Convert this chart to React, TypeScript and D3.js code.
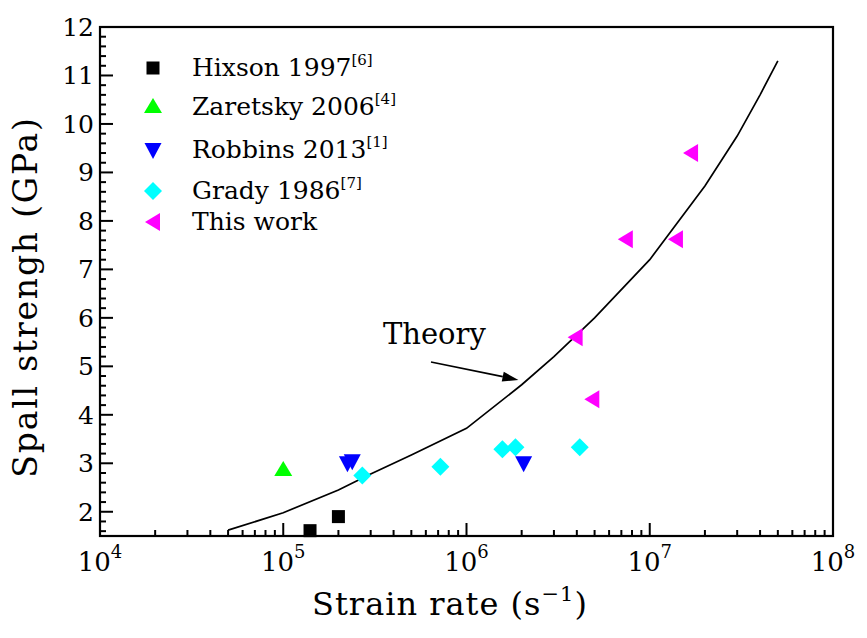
import * as d3 from "d3";

// strain rate (1/s) and spall strength (GPa)
const hixsonRate = [1.4e5, 2.0e5];
const hixsonSpall = [1.61, 1.9];
const zaretskyRate = [1.0e5];
const zaretskySpall = [2.86];
const robbinsRate = [2.24e5, 2.38e5, 2.05e6];
const robbinsSpall = [3.0, 3.04, 3.0];
const gradyRate = [2.7e5, 7.2e5, 1.57e6, 1.85e6, 4.15e6];
const gradySpall = [2.75, 2.93, 3.29, 3.33, 3.33];
const thisWorkRate = [1.68e7, 7.4e6, 1.39e7, 3.94e6, 4.86e6];
const thisWorkSpall = [9.4, 7.62, 7.62, 5.6, 4.32];
const theoryRate = [5e4, 1e5, 2e5, 3e5, 5e5, 1e6, 2e6, 3e6, 5e6, 1e7, 2e7, 3e7, 4e7, 5e7];
const theorySpall = [1.62, 1.98, 2.45, 2.78, 3.17, 3.72, 4.62, 5.2, 6.0, 7.2, 8.72, 9.75, 10.6, 11.3];

const yTicks = [2, 3, 4, 5, 6, 7, 8, 9, 10, 11, 12];
const xExponents = [4, 5, 6, 7, 8];

const W = 867;
const H = 638;
const margin = { top: 27, right: 34, bottom: 102, left: 100 };
const FONT = "'DejaVu Serif', serif";

type Shape = "square" | "up" | "down" | "diamond" | "left";

const Marker = ({ shape, x, y, color }: { shape: Shape; x: number; y: number; color: string }) => {
  if (shape === "square") return <rect x={x - 6.5} y={y - 6.5} width={13} height={13} fill={color} />;
  let pts: number[][] = [];
  if (shape === "up") pts = [[0, -9], [9, 6], [-9, 6]];
  if (shape === "down") pts = [[-8.5, -7], [8.5, -7], [0, 9]];
  if (shape === "diamond") pts = [[0, -9], [9, 0], [0, 9], [-9, 0]];
  if (shape === "left") pts = [[-8, 0], [7, -9], [7, 9]];
  return <polygon points={pts.map(([a, b]) => `${x + a},${y + b}`).join(" ")} fill={color} />;
};

const series: { name: string; sup?: string; shape: Shape; color: string; rate: number[]; spall: number[] }[] = [
  { name: "Hixson 1997", sup: "[6]", shape: "square", color: "#000000", rate: hixsonRate, spall: hixsonSpall },
  { name: "Zaretsky 2006", sup: "[4]", shape: "up", color: "#00ff00", rate: zaretskyRate, spall: zaretskySpall },
  { name: "Robbins 2013", sup: "[1]", shape: "down", color: "#0000ff", rate: robbinsRate, spall: robbinsSpall },
  { name: "Grady 1986", sup: "[7]", shape: "diamond", color: "#00ffff", rate: gradyRate, spall: gradySpall },
  { name: "This work", shape: "left", color: "#ff00ff", rate: thisWorkRate, spall: thisWorkSpall },
];

const legendY = [68, 107, 150, 191, 222];

export default function App() {
  const x = d3.scaleLog().domain([1e4, 1e8]).range([margin.left, W - margin.right]);
  const y = d3.scaleLinear().domain([1.5, 12]).range([H - margin.bottom, margin.top]);
  const x0 = margin.left;
  const x1 = W - margin.right;
  const y0 = H - margin.bottom;
  const y1 = margin.top;

  const xMinor: number[] = [];
  for (let e = 4; e < 8; e++) for (let m = 2; m <= 9; m++) xMinor.push(m * Math.pow(10, e));
  const yMinor = d3.range(16, 121, 2).map((v) => v / 10).filter((v) => Math.abs(v - Math.round(v)) > 1e-6);

  const line = d3
    .line<number>()
    .x((_, i) => x(theoryRate[i]))
    .y((d) => y(d));

  // arrow annotation in data coordinates
  const arrowFrom: [number, number] = [6.4e5, 5.09];
  const arrowTo: [number, number] = [1.92e6, 4.72];
  const ax0 = x(arrowFrom[0]);
  const ay0 = y(arrowFrom[1]);
  const ax1 = x(arrowTo[0]);
  const ay1 = y(arrowTo[1]);
  const ang = Math.atan2(ay1 - ay0, ax1 - ax0);
  const hl = 16;
  const hw = 5;
  const bx = ax1 - hl * Math.cos(ang);
  const by = ay1 - hl * Math.sin(ang);
  const head = [
    [ax1, ay1],
    [bx + hw * Math.sin(ang), by - hw * Math.cos(ang)],
    [bx - hw * Math.sin(ang), by + hw * Math.cos(ang)],
  ];

  return (
    <svg width={W} height={H} style={{ position: "absolute", left: 0, top: 0, background: "#fff" }} fontFamily={FONT}>
      <rect width={W} height={H} fill="#fff" />
      {/* theory curve */}
      <path d={line(theorySpall) ?? ""} fill="none" stroke="#000" strokeWidth={1.7} />
      <text x={x(3.5e5)} y={y(5.47)} fontSize={29} fill="#000">Theory</text>
      <line x1={ax0} y1={ay0} x2={bx} y2={by} stroke="#000" strokeWidth={1.7} />
      <polygon points={head.map((p) => p.join(",")).join(" ")} fill="#000" />

      {/* data points */}
      {series.map((s) =>
        s.rate.map((r, i) => <Marker key={s.name + i} shape={s.shape} x={x(r)} y={y(s.spall[i])} color={s.color} />)
      )}

      {/* legend */}
      {series.map((s, i) => (
        <g key={s.name}>
          <Marker shape={s.shape} x={153} y={legendY[i]} color={s.color} />
          <text x={192} y={legendY[i] + 8} fontSize={25} fill="#000">
            {s.name}
            {s.sup && (
              <tspan dy={-11} fontSize={15}>
                {s.sup}
              </tspan>
            )}
          </text>
        </g>
      ))}

      {/* frame */}
      <rect x={x0} y={y1} width={x1 - x0} height={y0 - y1} fill="none" stroke="#000" strokeWidth={2.2} />

      {/* x ticks */}
      {xExponents.map((e) => (
        <g key={e}>
          <line x1={x(Math.pow(10, e))} x2={x(Math.pow(10, e))} y1={y0} y2={y0 - 13} stroke="#000" strokeWidth={2} />
          <text x={x(Math.pow(10, e))} y={y0 + 35} fontSize={26} textAnchor="middle" fill="#000">
            10
            <tspan dy={-13} fontSize={18}>{e}</tspan>
          </text>
        </g>
      ))}
      {xMinor.map((v) => (
        <line key={v} x1={x(v)} x2={x(v)} y1={y0} y2={y0 - 6} stroke="#000" strokeWidth={2} />
      ))}

      {/* y ticks */}
      {yTicks.map((v) => (
        <g key={v}>
          <line x1={x0} x2={x0 + 13} y1={y(v)} y2={y(v)} stroke="#000" strokeWidth={2} />
          <text x={x0 - 6} y={y(v) + 9} fontSize={25} textAnchor="end" fill="#000">
            {v}
          </text>
        </g>
      ))}
      {yMinor.map((v) => (
        <line key={v} x1={x0} x2={x0 + 6} y1={y(v)} y2={y(v)} stroke="#000" strokeWidth={2} />
      ))}

      {/* axis titles */}
      <text x={450} y={615} fontSize={32} letterSpacing={1} textAnchor="middle" fill="#000">
        Strain rate (s<tspan dy={-14} fontSize={21}>−1</tspan>
        <tspan dy={14}>)</tspan>
      </text>
      <text transform="translate(37,297) rotate(-90)" fontSize={33} letterSpacing={1.8} textAnchor="middle" fill="#000">
        Spall strengh (GPa)
      </text>
    </svg>
  );
}
